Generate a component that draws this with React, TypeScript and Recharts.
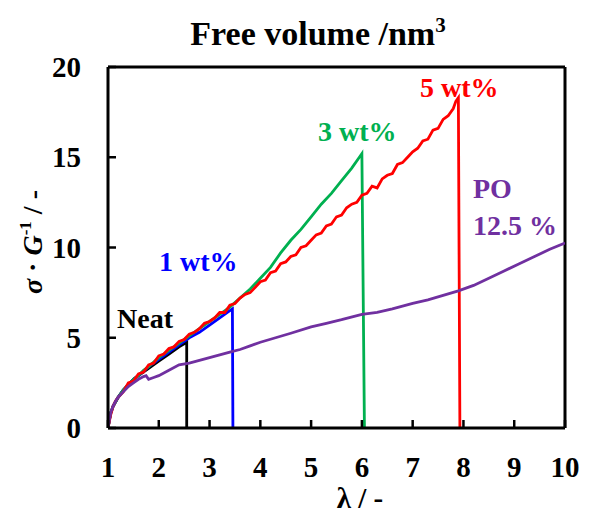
import { LineChart, Line, XAxis, YAxis, ReferenceLine } from "recharts"

// stretch ratio λ vs reduced stress σ·G⁻¹
const neat = [
  { x: 1.0, y: 0 }, { x: 1.05, y: 0.8 }, { x: 1.1, y: 1.2 }, { x: 1.2, y: 1.7 },
  { x: 1.3, y: 2.1 }, { x: 1.4, y: 2.4 }, { x: 1.5, y: 2.7 }, { x: 1.6, y: 2.9 },
  { x: 1.8, y: 3.3 }, { x: 2.0, y: 3.7 }, { x: 2.2, y: 4.1 }, { x: 2.4, y: 4.5 },
  { x: 2.55, y: 4.75 }, { x: 2.55, y: 0 },
]

const wt1 = [
  { x: 1.0, y: 0 }, { x: 1.05, y: 0.8 }, { x: 1.1, y: 1.2 }, { x: 1.2, y: 1.7 },
  { x: 1.3, y: 2.1 }, { x: 1.4, y: 2.4 }, { x: 1.5, y: 2.7 }, { x: 1.6, y: 2.9 },
  { x: 1.8, y: 3.4 }, { x: 2.0, y: 3.8 }, { x: 2.2, y: 4.2 }, { x: 2.4, y: 4.6 },
  { x: 2.6, y: 5.0 }, { x: 2.8, y: 5.3 }, { x: 3.0, y: 5.7 }, { x: 3.2, y: 6.1 },
  { x: 3.4, y: 6.5 }, { x: 3.45, y: 6.6 }, { x: 3.46, y: 0 },
]

const wt3 = [
  { x: 1.0, y: 0 }, { x: 1.05, y: 0.8 }, { x: 1.1, y: 1.2 }, { x: 1.2, y: 1.7 },
  { x: 1.3, y: 2.1 }, { x: 1.4, y: 2.4 }, { x: 1.5, y: 2.7 }, { x: 1.6, y: 2.9 },
  { x: 1.7, y: 3.2 }, { x: 1.8, y: 3.4 }, { x: 2.0, y: 3.9 }, { x: 2.2, y: 4.3 },
  { x: 2.4, y: 4.7 }, { x: 2.6, y: 5.1 }, { x: 2.8, y: 5.5 }, { x: 3.0, y: 5.9 },
  { x: 3.2, y: 6.3 }, { x: 3.4, y: 6.7 }, { x: 3.6, y: 7.2 }, { x: 3.8, y: 7.7 },
  { x: 4.0, y: 8.3 }, { x: 4.2, y: 8.9 }, { x: 4.4, y: 9.7 }, { x: 4.6, y: 10.4 },
  { x: 4.8, y: 11.0 }, { x: 5.0, y: 11.7 }, { x: 5.2, y: 12.4 }, { x: 5.4, y: 13.0 },
  { x: 5.6, y: 13.7 }, { x: 5.8, y: 14.4 }, { x: 5.95, y: 15.0 }, { x: 6.0, y: 15.2 },
  { x: 6.05, y: 0 },
]

const wt5 = [
  { x: 1.0, y: 0 }, { x: 1.05, y: 0.7 }, { x: 1.1, y: 1.2 }, { x: 1.15, y: 1.5 },
  { x: 1.2, y: 1.7 }, { x: 1.3, y: 2.0 }, { x: 1.4, y: 2.5 }, { x: 1.5, y: 2.6 },
  { x: 1.6, y: 3.0 }, { x: 1.7, y: 3.1 }, { x: 1.8, y: 3.5 }, { x: 1.9, y: 3.6 },
  { x: 2.0, y: 4.0 }, { x: 2.1, y: 4.1 }, { x: 2.2, y: 4.4 }, { x: 2.3, y: 4.5 },
  { x: 2.4, y: 4.8 }, { x: 2.5, y: 4.9 }, { x: 2.6, y: 5.2 }, { x: 2.7, y: 5.3 },
  { x: 2.8, y: 5.5 }, { x: 2.9, y: 5.8 }, { x: 3.0, y: 5.9 }, { x: 3.1, y: 6.1 },
  { x: 3.2, y: 6.4 }, { x: 3.3, y: 6.4 }, { x: 3.4, y: 6.8 }, { x: 3.5, y: 6.9 },
  { x: 3.6, y: 7.2 }, { x: 3.7, y: 7.4 }, { x: 3.8, y: 7.5 }, { x: 3.9, y: 7.8 },
  { x: 4.0, y: 8.1 }, { x: 4.1, y: 8.2 }, { x: 4.2, y: 8.6 }, { x: 4.3, y: 8.7 },
  { x: 4.4, y: 9.1 }, { x: 4.5, y: 9.2 }, { x: 4.6, y: 9.5 }, { x: 4.7, y: 9.6 },
  { x: 4.8, y: 10.0 }, { x: 4.9, y: 10.1 }, { x: 5.0, y: 10.4 }, { x: 5.1, y: 10.7 },
  { x: 5.2, y: 10.8 }, { x: 5.3, y: 11.2 }, { x: 5.4, y: 11.3 }, { x: 5.5, y: 11.7 },
  { x: 5.6, y: 11.8 }, { x: 5.7, y: 12.2 }, { x: 5.8, y: 12.4 }, { x: 5.9, y: 12.5 },
  { x: 6.0, y: 12.9 }, { x: 6.1, y: 13.0 }, { x: 6.2, y: 13.4 }, { x: 6.3, y: 13.3 },
  { x: 6.4, y: 13.8 }, { x: 6.5, y: 14.0 }, { x: 6.6, y: 14.1 }, { x: 6.7, y: 14.6 },
  { x: 6.8, y: 14.7 }, { x: 6.9, y: 15.0 }, { x: 7.0, y: 15.3 }, { x: 7.1, y: 15.5 },
  { x: 7.2, y: 15.9 }, { x: 7.3, y: 16.0 }, { x: 7.4, y: 16.5 }, { x: 7.5, y: 16.6 },
  { x: 7.6, y: 17.1 }, { x: 7.7, y: 17.3 }, { x: 7.8, y: 17.7 }, { x: 7.85, y: 18.1 },
  { x: 7.9, y: 18.3 }, { x: 7.93, y: 0 },
]

const po = [
  { x: 1.0, y: 0 }, { x: 1.03, y: 0.5 }, { x: 1.06, y: 0.9 }, { x: 1.1, y: 1.2 },
  { x: 1.15, y: 1.5 }, { x: 1.2, y: 1.7 }, { x: 1.3, y: 2.0 }, { x: 1.4, y: 2.3 },
  { x: 1.5, y: 2.5 }, { x: 1.6, y: 2.7 }, { x: 1.7, y: 2.85 }, { x: 1.75, y: 2.9 },
  { x: 1.8, y: 2.7 }, { x: 1.9, y: 2.8 }, { x: 2.0, y: 2.9 }, { x: 2.2, y: 3.2 },
  { x: 2.4, y: 3.5 }, { x: 2.6, y: 3.6 }, { x: 2.8, y: 3.75 }, { x: 3.0, y: 3.9 },
  { x: 3.2, y: 4.05 }, { x: 3.4, y: 4.2 }, { x: 3.6, y: 4.35 }, { x: 3.8, y: 4.55 },
  { x: 4.0, y: 4.75 }, { x: 4.3, y: 5.0 }, { x: 4.6, y: 5.25 }, { x: 5.0, y: 5.6 },
  { x: 5.3, y: 5.8 }, { x: 5.6, y: 6.0 }, { x: 6.0, y: 6.3 }, { x: 6.3, y: 6.4 },
  { x: 6.6, y: 6.6 }, { x: 7.0, y: 6.9 }, { x: 7.3, y: 7.1 }, { x: 7.6, y: 7.35 },
  { x: 7.9, y: 7.6 }, { x: 8.2, y: 7.9 }, { x: 8.5, y: 8.3 }, { x: 8.8, y: 8.7 },
  { x: 9.1, y: 9.1 }, { x: 9.4, y: 9.5 }, { x: 9.7, y: 9.9 }, { x: 10.0, y: 10.25 },
]

const xTicks = [1, 2, 3, 4, 5, 6, 7, 8, 9, 10]
const yTicks = [0, 5, 10, 15, 20]

const serif = { fontFamily: "'Liberation Serif', 'DejaVu Serif', serif", fontWeight: 700 }

const XTick = ({ x, y, payload }: any) => (
  <g>
    <line x1={x} y1={y} x2={x} y2={y - 8} stroke="#000" strokeWidth={2.5} />
    <text x={x} y={y + 49} textAnchor="middle" style={{ ...serif, fontSize: 29 }} fill="#000">
      {payload.value}
    </text>
  </g>
)

const YTick = ({ x, y, payload }: any) => (
  <g>
    <line x1={x} y1={y} x2={x + 8} y2={y} stroke="#000" strokeWidth={2.5} />
    <text x={x - 27} y={y + 10} textAnchor="end" style={{ ...serif, fontSize: 29 }} fill="#000">
      {payload.value}
    </text>
  </g>
)

const txt = { ...serif, fontSize: 28 }

export default function App() {
  return (
    <LineChart width={586} height={508} margin={{ top: 59, right: 29, left: 0, bottom: 0 }}>
      <XAxis
        type="number"
        dataKey="x"
        domain={[1, 10]}
        ticks={xTicks}
        tick={<XTick />}
        tickLine={false}
        tickSize={0}
        tickMargin={0}
        height={88}
        axisLine={{ stroke: "#000", strokeWidth: 3 }}
        allowDataOverflow
      />
      <YAxis
        type="number"
        dataKey="y"
        domain={[0, 20]}
        ticks={yTicks}
        tick={<YTick />}
        tickLine={false}
        tickSize={0}
        tickMargin={0}
        width={100}
        axisLine={{ stroke: "#000", strokeWidth: 3 }}
      />
      <ReferenceLine y={20} stroke="#000" strokeWidth={3} />
      <ReferenceLine x={10} stroke="#000" strokeWidth={3} />
      <Line data={neat} dataKey="y" type="linear" stroke="#000000" strokeWidth={2.8} dot={false} isAnimationActive={false} />
      <Line data={wt1} dataKey="y" type="linear" stroke="#0000ff" strokeWidth={2.8} dot={false} isAnimationActive={false} />
      <Line data={wt3} dataKey="y" type="linear" stroke="#00b050" strokeWidth={2.8} dot={false} isAnimationActive={false} />
      <Line data={wt5} dataKey="y" type="linear" stroke="#ff0000" strokeWidth={2.8} dot={false} isAnimationActive={false} />
      <Line data={po} dataKey="y" type="linear" stroke="#7030a0" strokeWidth={2.8} dot={false} isAnimationActive={false} />

      <text x={310} y={37} textAnchor="middle" style={{ ...serif, fontSize: 34 }} fill="#000">
        Free volume /nm<tspan style={{ fontSize: 21 }} dy={-13}>3</tspan>
      </text>
      <text x={352} y={500} textAnchor="middle" style={{ ...serif, fontSize: 29 }} fill="#000">
        λ / -
      </text>
      <text x={34} y={234} transform="rotate(-90, 34, 234)" textAnchor="middle" style={{ ...serif, fontSize: 28 }} fill="#000">
        <tspan style={{ fontStyle: "italic" }}>σ</tspan> · <tspan style={{ fontStyle: "italic" }}>G</tspan>
        <tspan style={{ fontSize: 17 }} dy={-11}>-1</tspan>
        <tspan dy={11}> / -</tspan>
      </text>

      <text x={109} y={320} style={txt} fill="#000">Neat</text>
      <text x={151} y={263} style={txt} fill="#0000ff">1 wt%</text>
      <text x={310} y={133} style={txt} fill="#00b050">3 wt%</text>
      <text x={412} y={89} style={txt} fill="#ff0000">5 wt%</text>
      <text x={465} y={190} style={txt} fill="#7030a0">PO</text>
      <text x={465} y={227} style={txt} fill="#7030a0">12.5 %</text>
    </LineChart>
  )
}
